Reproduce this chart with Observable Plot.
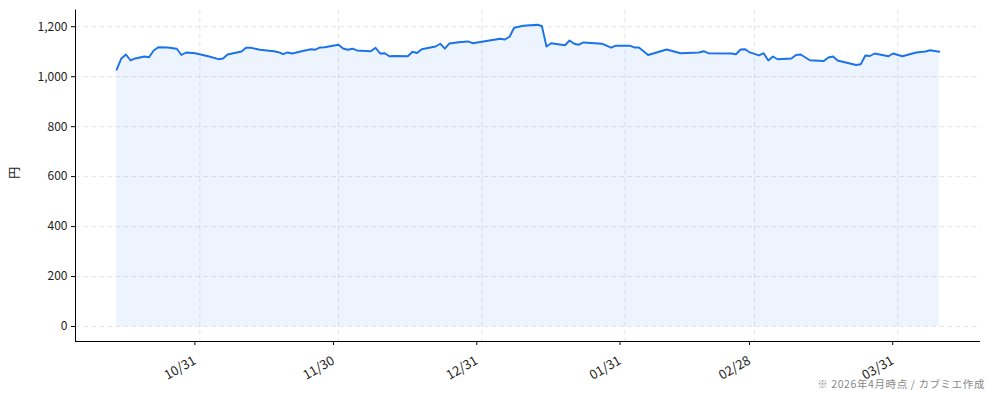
<!DOCTYPE html>
<html><head><meta charset="utf-8">
<script src="https://cdn.jsdelivr.net/npm/d3@7"></script>
<script src="https://cdn.jsdelivr.net/npm/@observablehq/plot@0.6"></script>
<style>
body{margin:0;background:#fff;font-family:"Noto Sans CJK JP","Noto Sans",sans-serif;position:relative;}
#chart svg{display:block;}
#cap{position:absolute;right:9px;top:378px;font-size:10.5px;color:#888;line-height:12px;letter-spacing:0.6px;white-space:nowrap;}
</style></head><body>
<div id="chart"></div><div id="cap"></div>
<script>
const dates = [
"2025-10-13","2025-10-14","2025-10-15","2025-10-16","2025-10-17","2025-10-19","2025-10-20","2025-10-21","2025-10-22","2025-10-24",
"2025-10-26","2025-10-27","2025-10-28","2025-10-30","2025-11-02","2025-11-04","2025-11-05","2025-11-06","2025-11-09","2025-11-10",
"2025-11-11","2025-11-13","2025-11-16","2025-11-17","2025-11-18","2025-11-19","2025-11-20","2025-11-22","2025-11-24","2025-11-25",
"2025-11-26","2025-11-27","2025-11-30","2025-12-01","2025-12-02","2025-12-03","2025-12-04","2025-12-07","2025-12-08","2025-12-09",
"2025-12-10","2025-12-11","2025-12-12","2025-12-15","2025-12-16","2025-12-17","2025-12-18","2025-12-21","2025-12-22","2025-12-23",
"2025-12-24","2025-12-26","2025-12-28","2025-12-29","2025-12-31","2026-01-04","2026-01-05","2026-01-06","2026-01-07","2026-01-09",
"2026-01-12","2026-01-13","2026-01-14","2026-01-15","2026-01-18","2026-01-19","2026-01-20","2026-01-21","2026-01-22","2026-01-26",
"2026-01-28","2026-01-29","2026-02-01","2026-02-02","2026-02-03","2026-02-05","2026-02-07","2026-02-09","2026-02-12","2026-02-16",
"2026-02-17","2026-02-18","2026-02-23","2026-02-24","2026-02-25","2026-02-26","2026-02-27","2026-03-01","2026-03-02","2026-03-03",
"2026-03-04","2026-03-05","2026-03-08","2026-03-09","2026-03-10","2026-03-12","2026-03-15","2026-03-16","2026-03-17","2026-03-18",
"2026-03-22","2026-03-23","2026-03-24","2026-03-25","2026-03-26","2026-03-29","2026-03-30","2026-04-01","2026-04-04","2026-04-06",
"2026-04-07","2026-04-09"];
const prices = [
1028,1073,1089,1065,1073,1081,1078,1105,1118,1117,
1112,1087,1097,1094,1081,1070,1073,1089,1101,1116,
1116,1108,1102,1098,1090,1097,1093,1102,1110,1108,
1117,1118,1128,1113,1108,1112,1105,1102,1116,1093,
1094,1082,1083,1082,1100,1095,1110,1121,1132,1112,
1133,1138,1141,1134,1140,1152,1149,1160,1196,1204,
1208,1203,1121,1134,1126,1145,1132,1128,1137,1132,
1116,1124,1124,1117,1117,1087,1098,1109,1094,1097,
1102,1094,1093,1090,1109,1110,1097,1085,1094,1065,
1081,1070,1073,1087,1089,1066,1063,1077,1081,1065,
1047,1050,1085,1083,1093,1082,1093,1082,1097,1101,
1106,1100];
const yTicks = [0,200,400,600,800,1000,1200];
const xTickDates = ["2025-10-31","2025-11-30","2025-12-31","2026-01-31","2026-02-28","2026-03-31"];
const xTickLabels = ["10/31","11/30","12/31","01/31","02/28","03/31"];
const yLabel = "円";
const caption = "※ 2026年4月時点 / カブミエ作成";

const data = dates.map((d,i)=>({date:new Date(d), price:prices[i]}));
const tickDates = xTickDates.map(d=>new Date(d));
const labelMap = new Map(tickDates.map((d,i)=>[+d, xTickLabels[i]]));
const xStart = new Date(Date.UTC(2025,9,4,2));
const xEnd = new Date(Date.UTC(2026,3,17,22));
const yMin = -60, yMax = 1267;
const font = '"Noto Sans CJK JP","Noto Sans",sans-serif';
const blue = "#1a73e8";
const gridStyle = {stroke:"#d0d0d0", strokeOpacity:0.7, strokeDasharray:"5,3", strokeWidth:0.8};

const plot = Plot.plot({
  width:994, height:392,
  marginLeft:75, marginRight:14, marginTop:9.5, marginBottom:51,
  style:{fontFamily:font, fontSize:"12px", color:"#333", background:"#fff"},
  x:{type:"utc", domain:[xStart,xEnd]},
  y:{domain:[yMin,yMax]},
  marks:[
    Plot.gridX(tickDates, gridStyle),
    Plot.gridY(yTicks, gridStyle),
    Plot.areaY(data,{x:"date", y1:0, y2:"price", fill:blue, fillOpacity:0.08, curve:"linear"}),
    Plot.lineY(data,{x:"date", y:"price", stroke:blue, strokeWidth:1.9, curve:"linear"}),
    Plot.ruleY([yMin],{stroke:"#000", strokeWidth:1}),
    Plot.ruleX([xStart],{stroke:"#000", strokeWidth:1}),
    Plot.axisX(tickDates,{tickFormat:d=>labelMap.get(+d), tickRotate:-30, tickSize:4, tickPadding:14, fontSize:13, dx:-5, stroke:"#000", fill:"#222", label:null, textAnchor:"end"}),
    Plot.axisY(yTicks,{tickFormat:d3.format(","), tickSize:4, tickPadding:4, stroke:"#000", fill:"#222", label:null}),
    Plot.text([yLabel],{frameAnchor:"left", dx:-60, dy:3, rotate:-90, fontSize:12, fill:"#222"})
  ]
});
document.getElementById("chart").appendChild(plot);
document.getElementById("cap").textContent = caption;
</script>
</body></html>
